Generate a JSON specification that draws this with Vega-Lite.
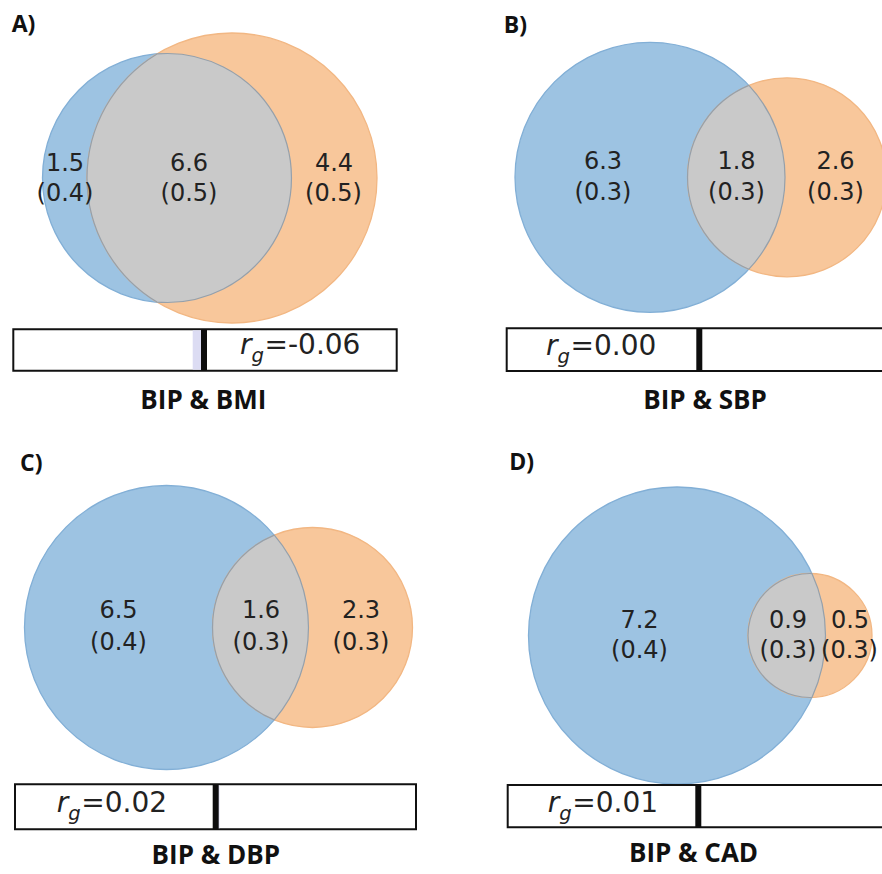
{
  "$schema": "https://vega.github.io/schema/vega-lite/v6.json",
  "width": 882,
  "height": 874,
  "padding": 0,
  "autosize": {"type": "none"},
  "background": "white",
  "config": {"view": {"stroke": null}},
  "datasets": {
    "circles": [
      {"panel": "A", "set": "BIP", "x": 167, "y": 178, "r": 124.5},
      {"panel": "A", "set": "trait", "x": 232, "y": 178, "r": 145},
      {"panel": "B", "set": "BIP", "x": 650, "y": 177.3, "r": 135},
      {"panel": "B", "set": "trait", "x": 787, "y": 177.3, "r": 99.5},
      {"panel": "C", "set": "BIP", "x": 166.5, "y": 627.5, "r": 142},
      {"panel": "C", "set": "trait", "x": 312.5, "y": 627.5, "r": 100},
      {"panel": "D", "set": "BIP", "x": 677, "y": 635.5, "r": 148.5},
      {"panel": "D", "set": "trait", "x": 810, "y": 635.5, "r": 62}
    ],
    "overlaps": [
      {"panel": "A", "x": 157, "y": 178},
      {"panel": "B", "x": 748.9, "y": 177.3},
      {"panel": "C", "x": 274.3, "y": 627.5},
      {"panel": "D", "x": 811.95, "y": 635.5}
    ],
    "labels": [
      {"panel": "A", "x": 65, "y": 163.5, "text": "1.5"},
      {"panel": "A", "x": 65, "y": 194, "text": "(0.4)"},
      {"panel": "A", "x": 189, "y": 163.5, "text": "6.6"},
      {"panel": "A", "x": 189, "y": 194, "text": "(0.5)"},
      {"panel": "A", "x": 334, "y": 163.5, "text": "4.4"},
      {"panel": "A", "x": 333.5, "y": 194, "text": "(0.5)"},
      {"panel": "B", "x": 603, "y": 161.5, "text": "6.3"},
      {"panel": "B", "x": 603, "y": 193, "text": "(0.3)"},
      {"panel": "B", "x": 736.5, "y": 161.5, "text": "1.8"},
      {"panel": "B", "x": 736.5, "y": 193, "text": "(0.3)"},
      {"panel": "B", "x": 835.5, "y": 161.5, "text": "2.6"},
      {"panel": "B", "x": 835.5, "y": 193, "text": "(0.3)"},
      {"panel": "C", "x": 118.5, "y": 611, "text": "6.5"},
      {"panel": "C", "x": 118.5, "y": 643, "text": "(0.4)"},
      {"panel": "C", "x": 261, "y": 611, "text": "1.6"},
      {"panel": "C", "x": 261, "y": 643, "text": "(0.3)"},
      {"panel": "C", "x": 361, "y": 611, "text": "2.3"},
      {"panel": "C", "x": 361, "y": 643, "text": "(0.3)"},
      {"panel": "D", "x": 639.5, "y": 621, "text": "7.2"},
      {"panel": "D", "x": 639.5, "y": 651, "text": "(0.4)"},
      {"panel": "D", "x": 788, "y": 621, "text": "0.9"},
      {"panel": "D", "x": 788, "y": 651, "text": "(0.3)"},
      {"panel": "D", "x": 850, "y": 621, "text": "0.5"},
      {"panel": "D", "x": 849.5, "y": 651, "text": "(0.3)"}
    ],
    "bars": [
      {"panel": "A", "x": 13.3, "x2": 396.7, "y": 329.3, "y2": 370.7},
      {"panel": "B", "x": 506.7, "x2": 892, "y": 328.3, "y2": 371},
      {"panel": "C", "x": 15, "x2": 416, "y": 784.3, "y2": 829.3},
      {"panel": "D", "x": 507.7, "x2": 892, "y": 785, "y2": 827.3}
    ],
    "fills": [
      {"panel": "A", "rg": -0.06, "x": 192.7, "x2": 204, "y": 330.3, "y2": 369.7},
      {"panel": "B", "rg": 0.0, "x": 699.3, "x2": 699.3, "y": 329.3, "y2": 370},
      {"panel": "C", "rg": 0.02, "x": 215.7, "x2": 219.5, "y": 785.3, "y2": 828.3},
      {"panel": "D", "rg": 0.01, "x": 698.3, "x2": 700.2, "y": 786, "y2": 826.3}
    ],
    "mids": [
      {"panel": "A", "x": 204, "y": 329.3, "y2": 370.7},
      {"panel": "B", "x": 699.3, "y": 328.3, "y2": 371},
      {"panel": "C", "x": 215.7, "y": 784.3, "y2": 829.3},
      {"panel": "D", "x": 698.3, "y": 785, "y2": 827.3}
    ],
    "rg": [
      {"panel": "A", "x": 240, "y": 354, "value": "=-0.06"},
      {"panel": "B", "x": 546, "y": 355, "value": "=0.00"},
      {"panel": "C", "x": 56.7, "y": 812, "value": "=0.02"},
      {"panel": "D", "x": 547.7, "y": 812, "value": "=0.01"}
    ],
    "titles": [
      {"x": 203.3, "y": 409, "label": "BIP & BMI"},
      {"x": 705, "y": 409, "label": "BIP & SBP"},
      {"x": 215.8, "y": 864, "label": "BIP & DBP"},
      {"x": 693.5, "y": 862, "label": "BIP & CAD"}
    ],
    "letters": [
      {"x": 11.7, "y": 31.7, "label": "A)"},
      {"x": 503.7, "y": 33, "label": "B)"},
      {"x": 20, "y": 471, "label": "C)"},
      {"x": 509.3, "y": 470, "label": "D)"}
    ]
  },
  "encoding": {
    "x": {"field": "x", "type": "quantitative", "scale": {"domain": [0, 882], "nice": false, "zero": false}, "axis": null},
    "y": {"field": "y", "type": "quantitative", "scale": {"domain": [0, 874], "nice": false, "zero": false, "reverse": true}, "axis": null}
  },
  "layer": [
    {
      "data": {"name": "circles"},
      "mark": {"type": "point", "shape": "circle", "filled": true, "opacity": 1, "strokeWidth": 1.3},
      "encoding": {
        "size": {"field": "r", "type": "quantitative", "scale": {"type": "pow", "exponent": 2, "domain": [0, 100], "range": [0, 40000], "zero": true}, "legend": null},
        "color": {"field": "set", "type": "nominal", "scale": {"domain": ["BIP", "trait"], "range": ["#9dc3e2", "#f8c79b"]}, "legend": null},
        "stroke": {"field": "set", "type": "nominal", "scale": {"domain": ["BIP", "trait"], "range": ["#82afd6", "#f2b783"]}, "legend": null}
      }
    },
    {
      "data": {"name": "overlaps"},
      "transform": [{"filter": "datum.panel === 'A'"}],
      "mark": {"type": "point", "filled": true, "opacity": 1, "size": 4, "color": "#c9c9c9", "stroke": "#95a0ab", "strokeWidth": 1.2,
        "shape": "M0,-124.1A145,145 0 0 0 0,124.1A124.5,124.5 0 1 0 0,-124.1Z"}
    },
    {
      "data": {"name": "overlaps"},
      "transform": [{"filter": "datum.panel === 'B'"}],
      "mark": {"type": "point", "filled": true, "opacity": 1, "size": 4, "color": "#c9c9c9", "stroke": "#95a0ab", "strokeWidth": 1.2,
        "shape": "M0,-91.9A99.5,99.5 0 0 0 0,91.9A135,135 0 0 0 0,-91.9Z"}
    },
    {
      "data": {"name": "overlaps"},
      "transform": [{"filter": "datum.panel === 'C'"}],
      "mark": {"type": "point", "filled": true, "opacity": 1, "size": 4, "color": "#c9c9c9", "stroke": "#95a0ab", "strokeWidth": 1.2,
        "shape": "M0,-92.4A100,100 0 0 0 0,92.4A142,142 0 0 0 0,-92.4Z"}
    },
    {
      "data": {"name": "overlaps"},
      "transform": [{"filter": "datum.panel === 'D'"}],
      "mark": {"type": "point", "filled": true, "opacity": 1, "size": 4, "color": "#c9c9c9", "stroke": "#95a0ab", "strokeWidth": 1.2,
        "shape": "M0,-61.97A62,62 0 1 0 0,61.97A148.5,148.5 0 0 0 0,-61.97Z"}
    },
    {
      "data": {"name": "labels"},
      "mark": {"type": "text", "font": "DejaVu Sans", "fontSize": 24, "align": "center", "baseline": "middle", "color": "#222222"},
      "encoding": {"text": {"field": "text", "type": "nominal"}}
    },
    {
      "data": {"name": "bars"},
      "mark": {"type": "rect", "fill": "white", "stroke": "#111111", "strokeWidth": 2},
      "encoding": {
        "x2": {"field": "x2"},
        "y2": {"field": "y2"}
      }
    },
    {
      "data": {"name": "fills"},
      "mark": {"type": "rect", "fill": "#dcdcf3", "strokeWidth": 0},
      "encoding": {
        "x2": {"field": "x2"},
        "y2": {"field": "y2"}
      }
    },
    {
      "data": {"name": "mids"},
      "mark": {"type": "rule", "color": "#0d0d0d", "strokeWidth": 6},
      "encoding": {"y2": {"field": "y2"}}
    },
    {
      "data": {"name": "rg"},
      "mark": {"type": "text", "text": "r", "font": "DejaVu Sans", "fontStyle": "italic", "fontSize": 28, "align": "left", "baseline": "alphabetic", "color": "#222222"}
    },
    {
      "data": {"name": "rg"},
      "mark": {"type": "text", "text": "g", "font": "DejaVu Sans", "fontStyle": "italic", "fontSize": 19.6, "dx": 11.5, "dy": 8, "align": "left", "baseline": "alphabetic", "color": "#222222"}
    },
    {
      "data": {"name": "rg"},
      "mark": {"type": "text", "font": "DejaVu Sans", "fontSize": 28, "dx": 24.5, "align": "left", "baseline": "alphabetic", "color": "#222222"},
      "encoding": {"text": {"field": "value", "type": "nominal"}}
    },
    {
      "data": {"name": "titles"},
      "mark": {"type": "text", "font": "Open Sans", "fontWeight": "bold", "fontSize": 26, "align": "center", "baseline": "alphabetic", "color": "#111111"},
      "encoding": {"text": {"field": "label", "type": "nominal"}}
    },
    {
      "data": {"name": "letters"},
      "mark": {"type": "text", "font": "Open Sans", "fontWeight": "bold", "fontSize": 23, "align": "left", "baseline": "alphabetic", "color": "#111111"},
      "encoding": {"text": {"field": "label", "type": "nominal"}}
    }
  ]
}
